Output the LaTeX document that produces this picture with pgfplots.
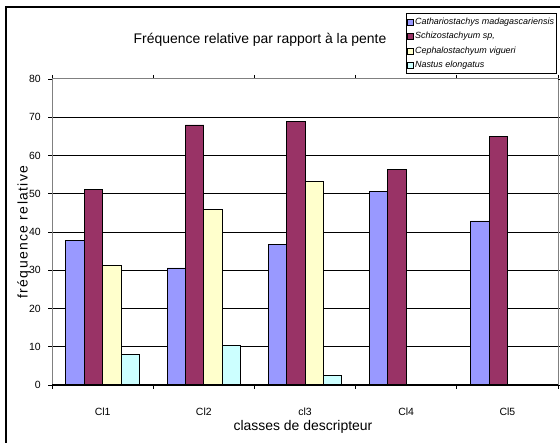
\documentclass[border=0pt]{standalone}
\usepackage{fontspec}
\setmainfont{Liberation Sans}
\usepackage{pgfplots}
\pgfplotsset{compat=1.18}

\definecolor{cath}{HTML}{9999FF}
\definecolor{schizo}{HTML}{993366}
\definecolor{cephalo}{HTML}{FFFFCC}
\definecolor{nastus}{HTML}{CCFFFF}
\definecolor{axisgray}{HTML}{808080}

\begin{document}
\begin{tikzpicture}[x=1bp,y=1bp]
\useasboundingbox (0,0) rectangle (560,443);
% outer chart frame
\draw[black, line width=2bp] (6,-20) -- (6,436) -- (600,436);
\begin{axis}[
  at={(52bp,58bp)}, anchor=south west,
  scale only axis, width=506bp, height=306bp,
  xmin=-0.5, xmax=4.5, ymin=0, ymax=80,
  ybar=0pt, bar width=18.4bp,
  /pgf/number format/assume math mode=true,
  xtick={0,...,4}, xticklabels={Cl1,Cl2,cl3,Cl4,Cl5},
  minor xtick={-0.5,0.5,...,4.5},
  major x tick style={draw=none},
  ytick={0,10,...,70},
  extra y ticks={80}, extra y tick style={grid=none},
  ymajorgrids,
  major grid style={black, line width=0.8bp},
  tick align=outside,
  major tick length=4bp, minor tick length=4bp,
  tick style={black, line width=0.8bp},
  axis line style={draw=axisgray, line width=1bp},
  xticklabel style={font=\fontsize{10.5}{12}\selectfont, anchor=base, inner sep=0pt, yshift=-27bp},
  yticklabel style={font=\fontsize{10.5}{12}\selectfont, anchor=east, inner sep=0pt, xshift=-7bp},
  title={Fréquence relative par rapport à la pente},
  title style={at={(0.411,1.108)}, anchor=center, font=\fontsize{14}{16}\selectfont},
  xlabel={classes de descripteur},
  xlabel style={at={(axis description cs:0.496,-0.137)}, anchor=center, font=\fontsize{14}{16}\selectfont},
  ylabel={\addfontfeature{LetterSpace=10}fréquence relative},
  ylabel style={at={(axis description cs:-0.0553,0.5)}, anchor=center, font=\fontsize{14}{16}\selectfont},
  legend image code/.code={\draw[#1, draw=black, line width=0.6bp] (0bp,-3bp) rectangle (6bp,3bp);},
  legend style={at={(0.998,1.2157)}, anchor=north east, draw=black, line width=0.8bp,
    font=\fontsize{9}{10}\selectfont\itshape, cells={anchor=west},
    inner xsep=1bp, inner ysep=2.5bp, row sep=2.5bp,
    nodes={inner xsep=1.5bp, inner ysep=2bp}},
  every axis plot/.append style={draw=black, line width=0.7bp},
]
\addplot[fill=cath] coordinates {(0,37.8) (1,30.6) (2,36.8) (3,50.5) (4,42.9)};
\addlegendentry{Cathariostachys madagascariensis}
\addplot[fill=schizo] coordinates {(0,51.2) (1,68.0) (2,69.0) (3,56.3) (4,65.0)};
\addlegendentry{Schizostachyum sp,}
\addplot[fill=cephalo] coordinates {(0,31.2) (1,45.9) (2,53.2)};
\addlegendentry{Cephalostachyum vigueri}
\addplot[fill=nastus] coordinates {(0,8.1) (1,10.3) (2,2.5)};
\addlegendentry{Nastus elongatus}
% axis lines on top of the bars
\draw[axisgray, line width=1.6bp] (axis description cs:0,0) -- (axis description cs:0,1);
\draw[black, line width=1.2bp] (axis description cs:0,0) -- (axis description cs:1,0);
\end{axis}
\end{tikzpicture}
\end{document}
